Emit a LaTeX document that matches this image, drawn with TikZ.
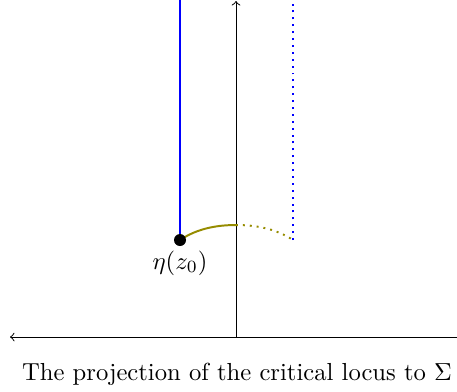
\documentclass[tikz,border=0pt]{standalone}
\definecolor{curvecol}{RGB}{150,140,0}
\begin{document}
\begin{tikzpicture}[x=0.406pt,y=-0.406pt,
  axis/.style={line width=0.4pt,->},
  thick line/.style={line width=0.8pt}]
\useasboundingbox (0,0) rectangle (457,391);
\begin{scope}
\clip (0,0) rectangle (457,391);
\coordinate (O) at (236,337);
\coordinate (L) at (10,337);
\coordinate (R) at (470,337);
\coordinate (T) at (236,1);
\draw[axis] (R) -- (L);
\draw[axis] (O) -- (T);
\coordinate (P) at (180,240);
\coordinate (Pt) at (180,-20);
\coordinate (M) at (236,225);
\coordinate (Q) at (293,240);
\coordinate (Qt) at (293,-20);
\draw[blue,thick line] (P) -- (Pt);
\draw[blue,thick line,dotted] (Q) -- (Qt);
\draw[curvecol,thick line] (P) .. controls (198,228) and (218,225) .. (M);
\draw[curvecol,thick line,dotted] (M) .. controls (254,225) and (275,228) .. (Q);
\fill (P) circle (6);
\node (lab) at (180,263) {$\eta(z_0)$};
\node (cap) at (237,374) {The projection of the critical locus to $\Sigma$};
\end{scope}
\end{tikzpicture}
\end{document}
